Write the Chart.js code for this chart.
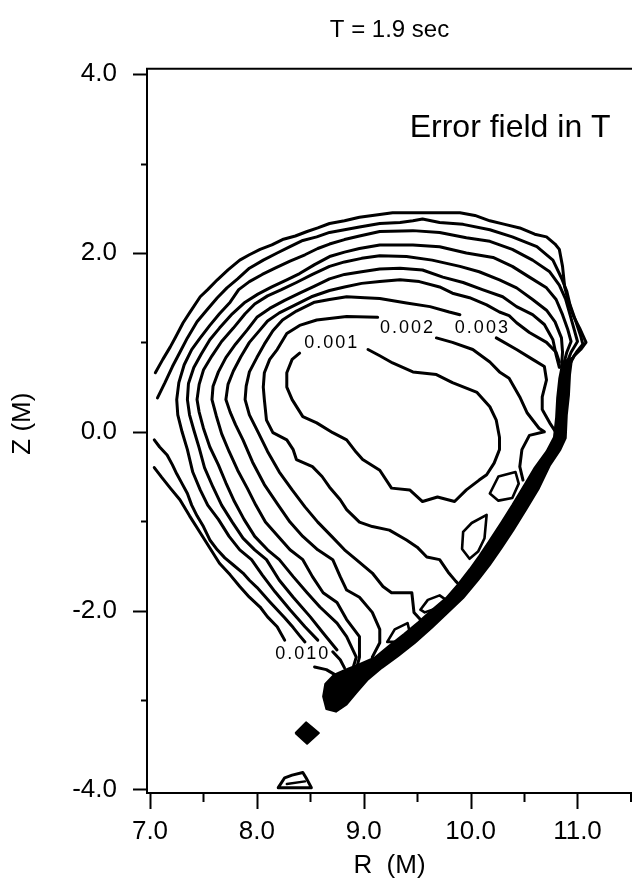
<!DOCTYPE html>
<html>
<head>
<meta charset="utf-8">
<title>Error field in T</title>
<script src="https://cdn.jsdelivr.net/npm/chart.js@4.4.0/dist/chart.umd.min.js"></script>
<style>
    html, body { margin: 0; padding: 0; background: #ffffff; }
    canvas { display: block; }
</style>
</head>
<body>
<canvas id="errorFieldChart" width="632" height="881"></canvas>
<script>
// Contour lines of the error field, [R (M), Z (M)] pairs
const c010Upper = [[7.05,0.66],[7.12,0.81],[7.19,0.95],[7.24,1.06],[7.31,1.22],[7.37,1.33],[7.47,1.51],[7.54,1.59],[7.63,1.70],[7.73,1.81],[7.84,1.92],[7.93,1.98],[8.03,2.04],[8.14,2.09],[8.24,2.15],[8.36,2.19],[8.47,2.24],[8.57,2.28],[8.68,2.33],[8.82,2.36],[8.96,2.40],[9.15,2.43],[9.27,2.45],[9.55,2.45],[9.90,2.45],[10.04,2.42],[10.18,2.36],[10.32,2.32],[10.46,2.28],[10.60,2.21],[10.71,2.18],[10.79,2.10],[10.83,2.04],[10.86,1.85],[10.88,1.62],[10.91,1.48],[10.96,1.30],[11.02,1.16],[11.08,1.00],[11.03,0.92],[10.97,0.85],[10.93,0.76],[10.90,0.60]];
const c010Lower = [[7.04,-0.40],[7.11,-0.51],[7.19,-0.63],[7.28,-0.76],[7.37,-0.94],[7.47,-1.13],[7.56,-1.30],[7.65,-1.47],[7.75,-1.60],[7.84,-1.73],[7.93,-1.85],[8.03,-1.96],[8.10,-2.07],[8.19,-2.18],[8.26,-2.33]];
const c010Tail = [[8.54,-2.63],[8.65,-2.66],[8.75,-2.73]];
const c009Upper = [[7.07,0.38],[7.14,0.55],[7.21,0.73],[7.28,0.89],[7.35,1.05],[7.44,1.23],[7.53,1.36],[7.63,1.50],[7.72,1.61],[7.82,1.71],[7.93,1.83],[8.06,1.92],[8.19,2.00],[8.31,2.07],[8.43,2.14],[8.56,2.18],[8.68,2.23],[8.82,2.26],[8.96,2.29],[9.15,2.33],[9.34,2.34],[9.46,2.36],[9.55,2.38],[9.71,2.34],[9.93,2.32],[10.18,2.26],[10.39,2.18],[10.62,2.07],[10.77,1.92],[10.85,1.72],[10.90,1.57],[10.93,1.42],[10.98,1.25],[11.03,1.07],[11.05,0.98],[10.99,0.89],[10.93,0.78],[10.90,0.60]];
const c009Lower = [[7.04,-0.09],[7.09,-0.17],[7.16,-0.26],[7.21,-0.37],[7.25,-0.47],[7.30,-0.58],[7.35,-0.69],[7.39,-0.82],[7.44,-0.94],[7.50,-1.06],[7.56,-1.21],[7.63,-1.32],[7.70,-1.41],[7.78,-1.49],[7.87,-1.58],[7.93,-1.66],[8.00,-1.74],[8.06,-1.82],[8.12,-1.90],[8.19,-1.99],[8.26,-2.08],[8.34,-2.19],[8.40,-2.28],[8.45,-2.35]];
const c009Tail = [[8.71,-2.46],[8.78,-2.55],[8.82,-2.64]];
const c008 = [[8.57,-2.33],[8.45,-2.18],[8.31,-1.99],[8.17,-1.79],[8.05,-1.60],[7.95,-1.43],[7.84,-1.32],[7.74,-1.17],[7.64,-0.98],[7.54,-0.82],[7.47,-0.65],[7.40,-0.45],[7.35,-0.20],[7.30,0.00],[7.26,0.19],[7.25,0.36],[7.27,0.55],[7.32,0.75],[7.39,0.92],[7.47,1.05],[7.56,1.19],[7.65,1.32],[7.75,1.45],[7.83,1.59],[7.93,1.68],[8.05,1.76],[8.17,1.83],[8.31,1.91],[8.45,1.98],[8.57,2.05],[8.68,2.10],[8.82,2.15],[8.96,2.19],[9.15,2.24],[9.46,2.25],[9.71,2.23],[9.96,2.17],[10.18,2.13],[10.39,2.04],[10.58,1.92],[10.74,1.79],[10.83,1.64],[10.89,1.48],[10.93,1.31],[10.97,1.14],[11.00,1.01],[10.94,0.89],[10.90,0.77],[10.88,0.60]];
const c007 = [[8.75,-2.44],[8.62,-2.25],[8.50,-2.07],[8.34,-1.85],[8.21,-1.66],[8.09,-1.43],[7.98,-1.32],[7.87,-1.19],[7.77,-1.01],[7.67,-0.82],[7.59,-0.62],[7.51,-0.40],[7.46,-0.18],[7.41,0.02],[7.37,0.19],[7.35,0.36],[7.36,0.54],[7.41,0.72],[7.48,0.87],[7.56,1.03],[7.65,1.16],[7.77,1.32],[7.89,1.45],[8.01,1.54],[8.14,1.62],[8.28,1.70],[8.40,1.77],[8.54,1.87],[8.68,1.96],[8.82,2.01],[8.96,2.05],[9.15,2.09],[9.46,2.09],[9.71,2.07],[9.96,2.00],[10.21,1.95],[10.39,1.85],[10.55,1.73],[10.71,1.61],[10.80,1.48],[10.86,1.31],[10.91,1.14],[10.94,1.01],[10.90,0.89],[10.87,0.75]];
const c006 = [[8.90,-2.64],[8.93,-2.52],[8.84,-2.29],[8.75,-2.14],[8.59,-1.96],[8.47,-1.80],[8.34,-1.62],[8.21,-1.43],[8.10,-1.32],[7.98,-1.17],[7.88,-0.98],[7.79,-0.78],[7.71,-0.57],[7.64,-0.37],[7.56,-0.17],[7.50,0.04],[7.46,0.22],[7.44,0.36],[7.46,0.53],[7.50,0.69],[7.58,0.85],[7.67,1.01],[7.78,1.16],[7.89,1.32],[7.98,1.43],[8.10,1.52],[8.23,1.59],[8.37,1.67],[8.52,1.76],[8.68,1.85],[8.82,1.90],[8.98,1.94],[9.15,1.97],[9.40,1.96],[9.64,1.92],[9.90,1.85],[10.08,1.79],[10.27,1.70],[10.43,1.61],[10.58,1.48],[10.71,1.36],[10.79,1.23],[10.85,1.05],[10.86,0.89],[10.85,0.72]];
const c005 = [[8.93,-2.66],[8.96,-2.52],[8.96,-2.29],[8.84,-2.10],[8.75,-1.91],[8.62,-1.80],[8.52,-1.62],[8.43,-1.43],[8.31,-1.32],[8.20,-1.17],[8.08,-1.01],[7.99,-0.82],[7.91,-0.63],[7.82,-0.43],[7.74,-0.22],[7.67,-0.02],[7.62,0.18],[7.58,0.36],[7.59,0.51],[7.64,0.67],[7.71,0.83],[7.80,0.98],[7.91,1.14],[8.00,1.28],[8.12,1.38],[8.26,1.47],[8.40,1.55],[8.54,1.63],[8.68,1.71],[8.82,1.76],[8.98,1.79],[9.15,1.82],[9.34,1.83],[9.55,1.81],[9.74,1.73],[9.93,1.67],[10.11,1.59],[10.30,1.51],[10.43,1.40],[10.58,1.31],[10.69,1.20],[10.77,1.03],[10.80,0.86],[10.83,0.72]];
const c004 = [[9.08,-2.52],[9.15,-2.36],[9.15,-2.21],[9.08,-2.02],[8.96,-1.85],[8.84,-1.77],[8.78,-1.62],[8.71,-1.43],[8.57,-1.32],[8.43,-1.17],[8.31,-1.01],[8.20,-0.82],[8.07,-0.59],[7.96,-0.34],[7.87,-0.09],[7.80,0.08],[7.75,0.22],[7.71,0.36],[7.73,0.53],[7.78,0.68],[7.85,0.84],[7.93,1.00],[8.03,1.14],[8.10,1.24],[8.21,1.33],[8.36,1.42],[8.51,1.51],[8.68,1.58],[8.82,1.62],[8.98,1.66],[9.15,1.68],[9.34,1.70],[9.52,1.68],[9.71,1.62],[9.83,1.55],[9.99,1.50],[10.15,1.42],[10.27,1.34],[10.36,1.30],[10.43,1.22],[10.55,1.11],[10.71,1.00],[10.80,0.89],[10.83,0.78]];
const c003a = [[9.53,-2.10],[9.47,-2.02],[9.45,-1.80],[9.26,-1.80],[9.18,-1.73],[9.08,-1.58],[8.93,-1.43],[8.82,-1.32],[8.70,-1.17],[8.57,-1.01],[8.45,-0.84],[8.33,-0.65],[8.21,-0.45],[8.10,-0.22],[8.01,0.00],[7.93,0.19],[7.89,0.36],[7.90,0.51],[7.93,0.67],[8.00,0.83],[8.07,0.98],[8.15,1.13],[8.24,1.25],[8.37,1.35],[8.54,1.45],[8.68,1.48],[8.84,1.51],[9.01,1.50],[9.15,1.49],[9.40,1.44],[9.62,1.40],[9.80,1.34],[9.90,1.31]];
const c003b = [[10.24,1.05],[10.43,0.92],[10.58,0.81],[10.69,0.73],[10.71,0.58],[10.67,0.39],[10.67,0.25],[10.74,0.10],[10.80,-0.01]];
const c002a = [[9.90,-1.72],[9.86,-1.67],[9.79,-1.57],[9.71,-1.43],[9.59,-1.40],[9.50,-1.29],[9.40,-1.21],[9.24,-1.10],[9.08,-1.06],[8.96,-1.01],[8.84,-0.87],[8.78,-0.76],[8.68,-0.62],[8.61,-0.50],[8.52,-0.39],[8.37,-0.31],[8.34,-0.20],[8.28,-0.09],[8.15,-0.01],[8.09,0.13],[8.07,0.36],[8.06,0.50],[8.07,0.66],[8.12,0.81],[8.19,0.92],[8.28,1.10],[8.40,1.19],[8.56,1.25],[8.84,1.29],[9.13,1.28]];
const c002b = [[9.68,1.05],[9.83,1.00],[10.02,0.92],[10.18,0.78],[10.27,0.67],[10.36,0.60],[10.46,0.39],[10.53,0.21],[10.64,0.04],[10.69,0.00],[10.55,-0.04],[10.48,-0.20],[10.46,-0.39],[10.49,-0.54]];
const c001 = [[9.04,0.92],[9.15,0.85],[9.27,0.77],[9.46,0.67],[9.68,0.64],[9.83,0.55],[10.06,0.44],[10.18,0.28],[10.24,0.13],[10.27,-0.06],[10.27,-0.20],[10.22,-0.35],[10.15,-0.48],[10.08,-0.54],[9.96,-0.65],[9.85,-0.78],[9.69,-0.73],[9.55,-0.78],[9.43,-0.65],[9.26,-0.63],[9.15,-0.43],[8.99,-0.31],[8.93,-0.23],[8.84,-0.09],[8.71,-0.01],[8.56,0.10],[8.43,0.17],[8.33,0.36],[8.28,0.50],[8.28,0.66],[8.33,0.81],[8.40,0.88]];

// crowded contours along the lower right edge, drawn as one dark band
const bandOuter = [[10.95,0.83],[10.93,0.64],[10.92,0.41],[10.90,0.19],[10.89,-0.07],[10.84,-0.20],[10.74,-0.38],[10.64,-0.63],[10.52,-0.87],[10.40,-1.10],[10.29,-1.30],[10.18,-1.49],[10.07,-1.66],[9.93,-1.86],[9.79,-2.02],[9.64,-2.19],[9.48,-2.36],[9.32,-2.51],[9.17,-2.64],[9.04,-2.77],[8.93,-2.92],[8.84,-3.05],[8.74,-3.13],[8.65,-3.10],[8.62,-2.96],[8.64,-2.82],[8.72,-2.72]];
const bandInner = [[8.83,-2.66],[8.96,-2.60],[9.11,-2.52],[9.24,-2.39],[9.38,-2.26],[9.51,-2.13],[9.64,-1.99],[9.77,-1.86],[9.88,-1.71],[9.99,-1.54],[10.08,-1.39],[10.18,-1.21],[10.29,-1.01],[10.39,-0.82],[10.50,-0.60],[10.60,-0.40],[10.71,-0.22],[10.78,-0.06],[10.80,0.16],[10.81,0.38],[10.83,0.60],[10.86,0.78]];

// small closed contours next to the band and below the plasma
const island1 = [[10.18,-0.69],[10.26,-0.50],[10.42,-0.45],[10.45,-0.58],[10.39,-0.74],[10.26,-0.77],[10.18,-0.69]];
const island2 = [[10.15,-0.93],[10.13,-1.19],[10.07,-1.34],[9.99,-1.42],[9.92,-1.31],[9.93,-1.12],[10.01,-1.02],[10.15,-0.93]];
const island3 = [[9.53,-1.99],[9.60,-1.88],[9.71,-1.83],[9.77,-1.88],[9.69,-1.97],[9.57,-2.02],[9.53,-1.99]];
const island4 = [[9.22,-2.35],[9.29,-2.21],[9.41,-2.14],[9.43,-2.24],[9.34,-2.35],[9.22,-2.35]];
const diamond = [[8.36,-3.37],[8.46,-3.25],[8.58,-3.37],[8.47,-3.49],[8.36,-3.37]];
const trapezoid = [[8.20,-3.98],[8.26,-3.87],[8.33,-3.84],[8.43,-3.81],[8.46,-3.87],[8.51,-3.98],[8.20,-3.98]];
const trapezoidInner = [[8.28,-3.94],[8.45,-3.91]];

// contour level labels
const levelText = ['0.001', '0.002', '0.003', '0.010'];
const levelR = [8.70, 9.41, 10.11, 8.43];
const levelZ = [0.99, 1.16, 1.16, -2.49];

// axis ticks
const rTicks = [7, 7.5, 8, 8.5, 9, 9.5, 10, 10.5, 11, 11.5];
const zTicks = [-4, -3, -2, -1, 0, 1, 2, 3, 4];

const FONT = '"Liberation Sans", Arial, Helvetica, sans-serif';
Chart.defaults.font.family = FONT;
Chart.defaults.color = '#000';

function toXY(points) {
    return points.map(p => ({ x: p[0], y: p[1] }));
}

function lineSet(points, width) {
    return {
        data: toXY(points),
        showLine: true,
        borderColor: '#000',
        borderWidth: width || 3,
        borderJoinStyle: 'round',
        borderCapStyle: 'round',
        pointRadius: 0,
        pointHoverRadius: 0,
        fill: false,
        tension: 0
    };
}

function shapeSet(points) {
    return {
        data: toXY(points),
        showLine: true,
        borderColor: '#000',
        borderWidth: 2,
        borderJoinStyle: 'round',
        backgroundColor: '#000',
        pointRadius: 0,
        pointHoverRadius: 0,
        fill: 'shape',
        tension: 0
    };
}

const bandShape = bandOuter.concat(bandInner, [bandOuter[0]]);

const contourLines = [c010Upper, c010Lower, c010Tail, c009Upper, c009Lower, c009Tail,
    c008, c007, c006, c005, c004, c003a, c003b, c002a, c002b, c001];

const datasets = [shapeSet(bandShape), shapeSet(diamond)]
    .concat(contourLines.map(c => lineSet(c)))
    .concat([island1, island2, island3, island4].map(c => lineSet(c, 2.6)))
    .concat([lineSet(trapezoid, 3), lineSet(trapezoidInner, 2.4)]);

// frame, tick marks and in-plot text
const decorations = {
    id: 'decorations',
    afterDraw(chart) {
        const { ctx, chartArea, scales } = chart;
        const x = scales.x, y = scales.y;
        ctx.save();
        ctx.strokeStyle = '#000';
        ctx.lineWidth = 2;

        ctx.beginPath();
        ctx.moveTo(chartArea.left - 1, chartArea.top);
        ctx.lineTo(chartArea.right, chartArea.top);
        ctx.stroke();

        rTicks.forEach(v => {
            const px = Math.min(Math.round(x.getPixelForValue(v)) + 0.5, chartArea.right - 1);
            const len = Number.isInteger(v) ? 16 : 9;
            ctx.beginPath();
            ctx.moveTo(px, chartArea.bottom);
            ctx.lineTo(px, chartArea.bottom + len);
            ctx.stroke();
        });
        zTicks.forEach(v => {
            const py = Math.round(y.getPixelForValue(v)) + 0.5;
            const len = v % 2 === 0 ? 14 : 6;
            ctx.beginPath();
            ctx.moveTo(chartArea.left, py);
            ctx.lineTo(chartArea.left - len, py);
            ctx.stroke();
        });

        ctx.fillStyle = '#000';
        ctx.textAlign = 'center';
        ctx.textBaseline = 'middle';
        ctx.font = '18px ' + FONT;
        if ('letterSpacing' in ctx) ctx.letterSpacing = '2px';
        levelText.forEach((t, i) => {
            ctx.fillText(t, x.getPixelForValue(levelR[i]), y.getPixelForValue(levelZ[i]));
        });
        if ('letterSpacing' in ctx) ctx.letterSpacing = '0px';

        ctx.textAlign = 'left';
        ctx.font = '32px ' + FONT;
        ctx.fillText('Error field in T', x.getPixelForValue(9.43), y.getPixelForValue(3.40));
        ctx.restore();
    }
};

new Chart(document.getElementById('errorFieldChart'), {
    type: 'scatter',
    data: { datasets: datasets },
    options: {
        responsive: false,
        animation: false,
        devicePixelRatio: 1,
        events: [],
        layout: { padding: 0 },
        plugins: {
            legend: { display: false },
            tooltip: { enabled: false },
            title: {
                display: true,
                text: 'T = 1.9 sec',
                fullSize: false,
                color: '#000',
                font: { size: 24, weight: 'normal' },
                padding: { top: 16, bottom: 24 }
            }
        },
        scales: {
            x: {
                type: 'linear',
                min: 6.972,
                max: 11.51,
                afterBuildTicks: s => { s.ticks = rTicks.map(v => ({ value: v })); },
                afterFit: s => { s.height = 88; s.paddingRight = 0; },
                grid: { display: false, drawTicks: false },
                border: { display: true, color: '#000', width: 2 },
                ticks: {
                    autoSkip: false,
                    maxRotation: 0,
                    padding: 23,
                    color: '#000',
                    font: { size: 26 },
                    callback: v => Number.isInteger(v) ? v.toFixed(1) : ''
                },
                title: {
                    display: true,
                    text: 'R  (M)',
                    color: '#000',
                    font: { size: 26 },
                    padding: { top: 0, bottom: 0 }
                }
            },
            y: {
                type: 'linear',
                min: -4.04,
                max: 4.06,
                afterBuildTicks: s => { s.ticks = zTicks.map(v => ({ value: v })); },
                afterFit: s => { s.width = 147; },
                grid: { display: false, drawTicks: false },
                border: { display: true, color: '#000', width: 2 },
                ticks: {
                    autoSkip: false,
                    padding: 30,
                    color: '#000',
                    font: { size: 26 },
                    callback: v => v % 2 === 0 ? v.toFixed(1) : ''
                },
                title: {
                    display: true,
                    text: '  Z (M)',
                    color: '#000',
                    font: { size: 26 },
                    padding: { top: 7, bottom: 0 }
                }
            }
        }
    },
    plugins: [decorations]
});
</script>
</body>
</html>
